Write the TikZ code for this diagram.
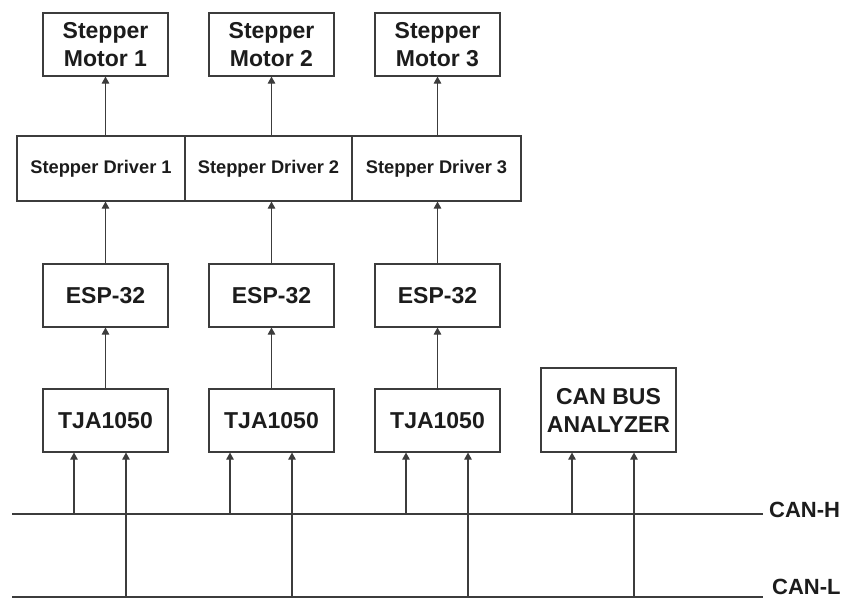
\documentclass[tikz,border=0pt]{standalone}
\usepackage{fontspec}
\setmainfont{Liberation Sans}
\usetikzlibrary{
  arrows.meta,
  positioning
}
\definecolor{ink}{HTML}{1C1C1C}
\definecolor{wire}{HTML}{3C3C3C}
\tikzset{
  flow/.style={
    -{Triangle[length=7pt,width=7.5pt]},
    line width=1.1pt,
    draw=wire
  },
  bus/.style={
    line width=1.1pt,
    draw=wire
  },
  unit/.style={
    draw=wire,
    line width=1.1pt,
    fill=white,
    text=ink,
    minimum width=125pt,
    minimum height=63pt,
    inner sep=0pt,
    align=center,
    font=\fontsize{23}{28}\selectfont\bfseries
  },
  driver/.style={
    unit,
    minimum height=65pt,
    font=\fontsize{18.3}{22}\selectfont\bfseries
  },
  buslabel/.style={
    anchor=base west,
    inner sep=0pt,
    text=ink,
    font=\fontsize{22}{27}\selectfont\bfseries
  }
}

\begin{document}
\begin{tikzpicture}[x=1pt,y=-1pt]
    \useasboundingbox (0,0) rectangle (845,598);
    % motors
    \node[unit] (mot1) at (105.5,44.5) {Stepper\\Motor 1};
    \node[unit] (mot2) at (271.5,44.5) {Stepper\\Motor 2};
    \node[unit] (mot3) at (437.5,44.5) {Stepper\\Motor 3};
    % drivers
    \node[driver, minimum width=168pt] (drv1) at (101,168.5) {Stepper Driver 1};
    \node[driver, minimum width=167pt] (drv2) at (268.5,168.5) {Stepper Driver 2};
    \node[driver, minimum width=169pt] (drv3) at (436.5,168.5) {Stepper Driver 3};
    % controllers
    \node[unit] (esp1) at (105.5,295.5) {ESP-32};
    \node[unit] (esp2) at (271.5,295.5) {ESP-32};
    \node[unit] (esp3) at (437.5,295.5) {ESP-32};
    % transceivers
    \node[unit] (tja1) at (105.5,420.5) {TJA1050};
    \node[unit] (tja2) at (271.5,420.5) {TJA1050};
    \node[unit] (tja3) at (437.5,420.5) {TJA1050};
    \node[unit, minimum width=135pt, minimum height=84pt] (analyzer)
      at (608.5,410) {CAN BUS\\ANALYZER};
    % bus lines
    \coordinate (canhA) at (12,514);
    \coordinate (canhB) at (763,514);
    \coordinate (canlA) at (12,597);
    \coordinate (canlB) at (763,597);
    \draw[bus] (canhA) -- (canhB);
    \draw[bus] (canlA) -- (canlB);
    \node[buslabel] (canh) at ([xshift=6pt,yshift=-3pt]canhB) {CAN-H};
    \node[buslabel] (canl) at ([xshift=9pt,yshift=2.5pt]canlB) {CAN-L};
    % upward links
    \draw[flow] (drv1.north -| mot1) -- (mot1.south);
    \draw[flow] (drv2.north -| mot2) -- (mot2.south);
    \draw[flow] (drv3.north -| mot3) -- (mot3.south);
    \draw[flow] (esp1.north) -- (drv1.south -| esp1);
    \draw[flow] (esp2.north) -- (drv2.south -| esp2);
    \draw[flow] (esp3.north) -- (drv3.south -| esp3);
    \draw[flow] (tja1.north) -- (esp1.south);
    \draw[flow] (tja2.north) -- (esp2.south);
    \draw[flow] (tja3.north) -- (esp3.south);
    % bus taps
    \draw[flow] ([xshift=-31.5pt]tja1.south |- canhA) -- ([xshift=-31.5pt]tja1.south);
    \draw[flow] ([xshift=20.5pt]tja1.south |- canlA) -- ([xshift=20.5pt]tja1.south);
    \draw[flow] ([xshift=-41.5pt]tja2.south |- canhA) -- ([xshift=-41.5pt]tja2.south);
    \draw[flow] ([xshift=20.5pt]tja2.south |- canlA) -- ([xshift=20.5pt]tja2.south);
    \draw[flow] ([xshift=-31.5pt]tja3.south |- canhA) -- ([xshift=-31.5pt]tja3.south);
    \draw[flow] ([xshift=30.5pt]tja3.south |- canlA) -- ([xshift=30.5pt]tja3.south);
    \draw[flow] ([xshift=-36.5pt]analyzer.south |- canhA) -- ([xshift=-36.5pt]analyzer.south);
    \draw[flow] ([xshift=25.5pt]analyzer.south |- canlA) -- ([xshift=25.5pt]analyzer.south);
  \end{tikzpicture}
\end{document}
